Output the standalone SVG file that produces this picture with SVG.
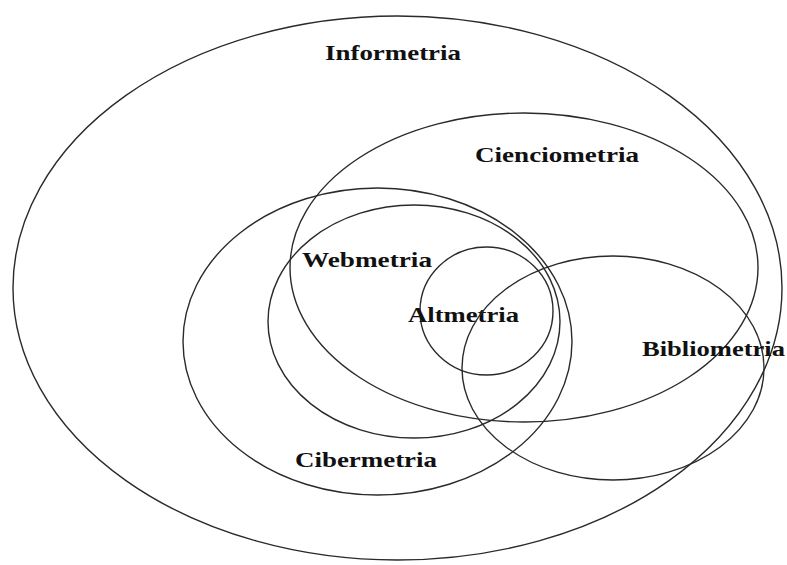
<svg xmlns="http://www.w3.org/2000/svg" width="787" height="565" viewBox="0 0 787 565">
<style>
ellipse{fill:none;stroke:#2a2a2a;stroke-width:1.4}
text{font-family:"Liberation Serif","Times New Roman",serif;font-weight:bold;font-size:21px;fill:#111}
</style>
<rect width="787" height="565" fill="#fff"/>
<g id="informetria"><ellipse cx="397.5" cy="288" rx="384.5" ry="272"/><text x="325" y="60" textLength="136" lengthAdjust="spacingAndGlyphs">Informetria</text></g>
<g id="cienciometria"><ellipse cx="524" cy="267.5" rx="234" ry="154.5"/><text x="475" y="162" textLength="164" lengthAdjust="spacingAndGlyphs">Cienciometria</text></g>
<g id="cibermetria"><ellipse cx="377.5" cy="341.5" rx="194.5" ry="153.5"/><text x="295" y="467" textLength="142" lengthAdjust="spacingAndGlyphs">Cibermetria</text></g>
<g id="webmetria"><ellipse cx="414" cy="321.5" rx="146" ry="116.5"/><text x="302" y="267" textLength="130" lengthAdjust="spacingAndGlyphs">Webmetria</text></g>
<g id="altmetria"><ellipse cx="486.5" cy="311" rx="66.5" ry="64"/><text x="408" y="322" textLength="111" lengthAdjust="spacingAndGlyphs">Altmetria</text></g>
<g id="bibliometria"><ellipse cx="613" cy="368" rx="151" ry="112"/><text x="642" y="356" textLength="143" lengthAdjust="spacingAndGlyphs">Bibliometria</text></g>
<g id="connectors"></g>
</svg>
